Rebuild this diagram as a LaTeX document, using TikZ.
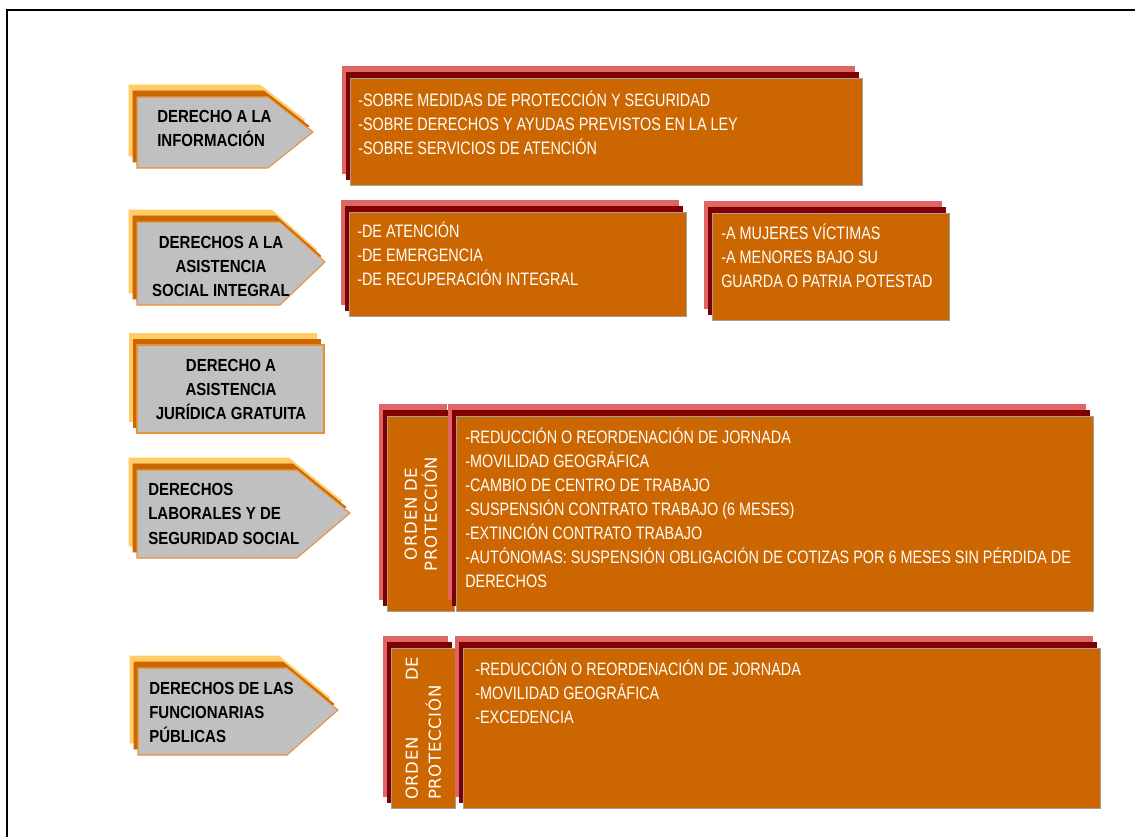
\documentclass[tikz,border=0pt]{standalone}
\usepackage{fontspec}
\setmainfont{Liberation Sans}
\newfontfamily\boxfont{Liberation Sans}[FakeStretch=0.8]
\newfontfamily\lblfont{Liberation Sans}[FakeStretch=0.86]
\newfontfamily\ordfont{DejaVu Sans}[LetterSpace=4]
\usetikzlibrary{shadows,positioning}

\definecolor{lblgray}{HTML}{C0C0C0}
\definecolor{lblyellow}{HTML}{FFCC66}
\definecolor{lblorange}{HTML}{CC6600}
\definecolor{lbledge}{HTML}{E69138}
\definecolor{boxfill}{HTML}{CC6600}
\definecolor{boxpink}{HTML}{E06666}
\definecolor{boxred}{HTML}{800000}
\definecolor{boxedge}{HTML}{A0A0A0}

\newcommand\px[1]{#1*0.75pt}

\tikzset{
  lblshape/.style={fill=lblgray, draw=lbledge, line width=0.8pt,
    copy shadow={shadow xshift=-6pt, shadow yshift=9pt, fill=lblyellow, draw=lblyellow},
    copy shadow={shadow xshift=-3pt, shadow yshift=4.5pt, fill=lblorange, draw=lblorange}},
  lbltext/.style={inner sep=0pt, text=black,
    font=\lblfont\bfseries\fontsize{13.1pt}{18pt}\selectfont},
  rbox/.style={rectangle, fill=boxfill, draw=boxedge, line width=0.6pt,
    anchor=north west, inner sep=0pt,
    copy shadow={shadow xshift=-6pt, shadow yshift=9pt, fill=boxpink, draw=boxpink},
    copy shadow={shadow xshift=-3pt, shadow yshift=4.5pt, fill=boxred, draw=boxred}},
  boxtext/.style={inner sep=0pt, text=white, align=left, anchor=base west,
    font=\boxfont\fontsize{13.5pt}{18pt}\selectfont},
  ordtext/.style={inner sep=0pt, text=white, rotate=90,
    font=\ordfont\fontsize{12.4pt}{15pt}\selectfont}
}

\begin{document}
\begin{tikzpicture}[x=0.75pt,y=-0.75pt]
\useasboundingbox (0,0) rectangle (1135,837);
\draw[line width=1.5pt] (7,837) -- (7,10) -- (1135,10);

% left labels (text placed on the baseline of its last line)
\draw[lblshape] (137,97) -- (268,97) -- (313,132) -- (268,168) -- (137,168) -- cycle;
\node[lbltext, align=left, anchor=base west] (dinfo) at (157,147) {DERECHO A LA\\INFORMACIÓN};

\draw[lblshape] (137,222) -- (280,222) -- (325,262) -- (280,305) -- (137,305) -- cycle;
\node[lbltext, align=center, anchor=base] (dasist) at (221,297) {DERECHOS A LA\\ASISTENCIA\\SOCIAL INTEGRAL};

\draw[lblshape] (137,345) rectangle (324,433);
\node[lbltext, align=center, anchor=base] (djurid) at (231,420) {DERECHO A\\ASISTENCIA\\JURÍDICA GRATUITA};

\draw[lblshape] (137,470) -- (297,470) -- (350,513) -- (297,558) -- (137,558) -- cycle;
\node[lbltext, align=left, anchor=base west] (dlabor) at (148,544) {DERECHOS\\LABORALES Y DE\\SEGURIDAD SOCIAL};

\draw[lblshape] (138,668) -- (287,668) -- (338,710) -- (287,755) -- (138,755) -- cycle;
\node[lbltext, align=left, anchor=base west] (dfunc) at (149,742) {DERECHOS DE LAS\\FUNCIONARIAS\\PÚBLICAS};

% right boxes
\node[rbox, minimum width=\px{512}, minimum height=\px{107}] (infobox) at (350,78) {};
\node[boxtext] (infotxt) at (358,154.5) {-SOBRE MEDIDAS DE PROTECCIÓN Y SEGURIDAD\\-SOBRE DERECHOS Y AYUDAS PREVISTOS EN LA LEY\\-SOBRE SERVICIOS DE ATENCIÓN};

\node[rbox, minimum width=\px{337}, minimum height=\px{104}] (asistbox) at (349,212) {};
\node[boxtext] (asisttxt) at (357,285.5) {-DE ATENCIÓN\\-DE EMERGENCIA\\-DE RECUPERACIÓN INTEGRAL};

\node[rbox, minimum width=\px{237}, minimum height=\px{107}] (victbox) at (712,213) {};
\node[boxtext] (victtxt) at (721,287.5) {-A MUJERES VÍCTIMAS\\-A MENORES BAJO SU\\GUARDA O PATRIA POTESTAD};

\node[rbox, minimum width=\px{67}, minimum height=\px{195}] (ordlab) at (387,416) {};
\node[ordtext, align=center] (ordlabtxt) at (ordlab.center) {ORDEN DE\\PROTECCIÓN};

\node[rbox, minimum width=\px{637}, minimum height=\px{195}] (laborbox) at (456,416) {};
\node[boxtext] (labortxt) at (465,587.5) {-REDUCCIÓN O REORDENACIÓN DE JORNADA\\-MOVILIDAD GEOGRÁFICA\\-CAMBIO DE CENTRO DE TRABAJO\\-SUSPENSIÓN CONTRATO TRABAJO (6 MESES)\\-EXTINCIÓN CONTRATO TRABAJO\\-AUTÓNOMAS: SUSPENSIÓN OBLIGACIÓN DE COTIZAS POR 6 MESES SIN PÉRDIDA DE\\DERECHOS};

\node[rbox, minimum width=\px{64}, minimum height=\px{160}] (ordfun) at (391,648) {};
\node[ordtext, align=left, text width=\px{143}, font=\ordfont\fontsize{12.4pt}{17.25pt}\selectfont] (ordfuntxt) at (ordfun.center) {ORDEN\hfill DE\\PROTECCIÓN};

\node[rbox, minimum width=\px{637}, minimum height=\px{160}] (funcbox) at (463,648) {};
\node[boxtext] (functxt) at (475,723.5) {-REDUCCIÓN O REORDENACIÓN DE JORNADA\\-MOVILIDAD GEOGRÁFICA\\-EXCEDENCIA};
\end{tikzpicture}
\end{document}
